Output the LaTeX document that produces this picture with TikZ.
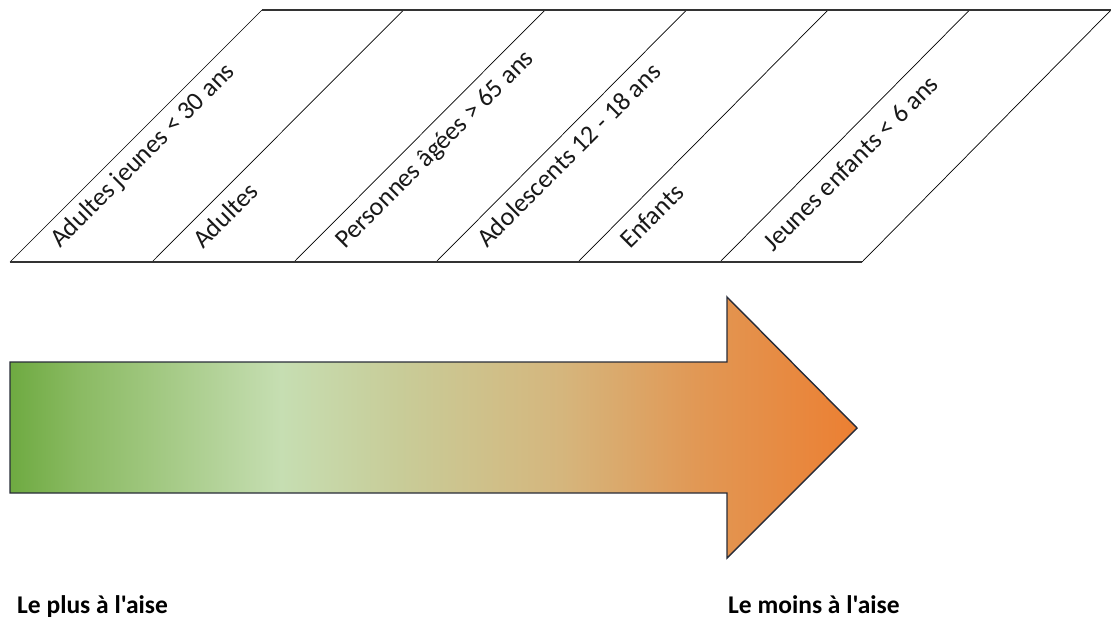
\documentclass[tikz,border=0pt]{standalone}
\usepackage{fontspec}
\newfontfamily\carlito{Carlito}
\definecolor{gA}{RGB}{110,170,65}
\definecolor{gB}{RGB}{138,186,98}
\definecolor{gC}{RGB}{198,222,178}
\definecolor{gD}{RGB}{200,204,152}
\definecolor{gE}{RGB}{213,182,125}
\definecolor{gF}{RGB}{225,152,85}
\definecolor{gG}{RGB}{236,127,50}
\definecolor{edge}{RGB}{40,44,56}
\pgfdeclarehorizontalshading{arrowgrad}{100bp}{color(0bp)=(gA); color(25bp)=(gA); color(29bp)=(gB); color(41bp)=(gC); color(48bp)=(gD); color(57.5bp)=(gE); color(65.5bp)=(gF); color(75bp)=(gG); color(100bp)=(gG)}
\tikzset{
  cellline/.style={draw=black, line width=0.7pt},
  frameline/.style={draw=black!80, line width=1.4pt},
  celltext/.style={rotate=45, anchor=base west, inner sep=0pt, font=\carlito\fontsize{26}{29}\selectfont, text=black!90},
  endlabel/.style={anchor=base west, inner sep=0pt, font=\carlito\bfseries\fontsize{25.5}{28}\selectfont, text=black},
}
\begin{document}
\begin{tikzpicture}[x=1pt,y=-1pt]
\useasboundingbox (0,0) rectangle (1111,618);
% slanted band lines
\foreach \i in {0,...,6} {
  \coordinate (b\i) at ({10+142*\i},262);
  \coordinate (t\i) at ({262+141.5*\i},10);
  \draw[cellline] (b\i) -- (t\i);
}
\draw[frameline] (t0) -- (t6);
\draw[frameline] (b0) -- (b6);
% cell labels
\node[celltext] (l1) at (60,249) {Adultes jeunes < 30 ans};
\node[celltext] (l2) at (203,250) {Adultes};
\node[celltext] (l3) at (345,250) {Personnes âgées > 65 ans};
\node[celltext] (l4) at (487,249) {Adolescents 12 - 18 ans};
\node[celltext] (l5) at (630,250) {Enfants};
\node[celltext] (l6) at (773,253) {Jeunes enfants < 6 ans};
% big arrow
\coordinate (a1) at (10,362);
\coordinate (a2) at (727,362);
\coordinate (a3) at (727,297);
\coordinate (a4) at (857,428);
\coordinate (a5) at (727,558);
\coordinate (a6) at (727,493);
\coordinate (a7) at (10,493);
\draw[draw=edge, line width=1.4pt, shading=arrowgrad, line join=miter]
  (a1) -- (a2) -- (a3) -- (a4) -- (a5) -- (a6) -- (a7) -- cycle;
% end labels
\node[endlabel] (left) at (17,613) {Le plus à l'aise};
\node[endlabel] (right) at (728,613) {Le moins à l'aise};
\end{tikzpicture}
\end{document}
